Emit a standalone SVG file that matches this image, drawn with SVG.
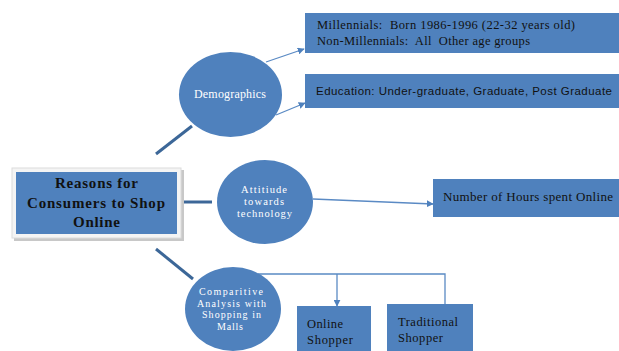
<svg xmlns="http://www.w3.org/2000/svg" width="619" height="351" viewBox="0 0 619 351">
<defs>
<marker id="ah" viewBox="0 0 10 10" refX="9" refY="5" markerWidth="7" markerHeight="7" markerUnits="userSpaceOnUse" orient="auto">
<path d="M0,0 L10,5 L0,10 z" fill="#4f81bd"/>
</marker>
<style>
.box{fill:#4f81bd;}
.ell{fill:#4f81bd;}
.thick{stroke:#3c6798;stroke-width:3;fill:none;}
.thin{stroke:#5a8ac4;stroke-width:1.3;fill:none;}
.serif{font-family:"Liberation Serif","Times New Roman",serif;}
.sans{font-family:"Liberation Sans",Arial,sans-serif;}
.wt{fill:#ffffff;text-anchor:middle;}
.bt{fill:#111111;}
</style>
</defs>
<rect width="619" height="351" fill="#ffffff"/>
<g id="connectors">
<line class="thick" x1="156" y1="154" x2="192" y2="126"/>
<line class="thick" x1="183" y1="202" x2="212" y2="202"/>
<line class="thick" x1="156" y1="249" x2="193" y2="279"/>
<line class="thin" x1="266" y1="62" x2="304" y2="49" marker-end="url(#ah)"/>
<line class="thin" x1="276" y1="115" x2="305" y2="103" marker-end="url(#ah)"/>
<line class="thin" x1="313" y1="199" x2="433" y2="204" marker-end="url(#ah)"/>
<polyline class="thin" points="258,274 445,274 445,310 422,310" marker-end="url(#ah)"/>
<line class="thin" x1="337" y1="274" x2="337" y2="306" marker-end="url(#ah)"/>
</g>
<g id="center">
<rect x="14" y="170" width="170" height="71" fill="#c8c8c8"/>
<rect x="12" y="168" width="169" height="70" fill="#f4f4f4" stroke="#dcdcdc" stroke-width="1"/>
<rect class="box" x="16" y="172" width="161" height="62"/>
<text class="serif bt" x="96.5" y="188" font-size="15" font-weight="bold" text-anchor="middle" textLength="83" lengthAdjust="spacing">Reasons for</text>
<text class="serif bt" x="96" y="208" font-size="15" font-weight="bold" text-anchor="middle" textLength="138" lengthAdjust="spacing">Consumers to Shop</text>
<text class="serif bt" x="96.5" y="227" font-size="15" font-weight="bold" text-anchor="middle" textLength="47" lengthAdjust="spacing">Online</text>
</g>
<g id="demographics">
<ellipse class="ell" cx="230.5" cy="94.5" rx="51.5" ry="42.5"/>
<text class="serif wt" font-size="12" x="230" y="98" textLength="72" lengthAdjust="spacing">Demographics</text>
</g>
<g id="millennials">
<rect class="box" x="305" y="13" width="314" height="40"/>
<text class="serif bt" x="317" y="29" font-size="12.5" xml:space="preserve" textLength="258" lengthAdjust="spacing">Millennials:  Born 1986-1996 (22-32 years old)</text>
<text class="serif bt" x="317" y="45" font-size="12.5" xml:space="preserve" textLength="213" lengthAdjust="spacing">Non-Millennials:  All  Other age groups</text>
</g>
<g id="education">
<rect class="box" x="305" y="74" width="314" height="34"/>
<text class="sans bt" x="316" y="95" font-size="11.5" textLength="296" lengthAdjust="spacing">Education: Under-graduate, Graduate, Post Graduate</text>
</g>
<g id="attitude">
<ellipse class="ell" cx="265" cy="202" rx="48" ry="42"/>
<text class="serif wt" font-size="10.5" x="264" y="193" textLength="46" lengthAdjust="spacing">Attitiude</text>
<text class="serif wt" font-size="10.5" x="264" y="205" textLength="40" lengthAdjust="spacing">towards</text>
<text class="serif wt" font-size="10.5" x="264.5" y="217" textLength="55" lengthAdjust="spacing">technology</text>
</g>
<g id="hours">
<rect class="box" x="433" y="179" width="186" height="38"/>
<text class="serif bt" x="443" y="201" font-size="13" textLength="170" lengthAdjust="spacing">Number of Hours spent Online</text>
</g>
<g id="comparitive">
<ellipse class="ell" cx="233" cy="309" rx="48" ry="42"/>
<text class="serif wt" font-size="10" x="231" y="295" textLength="64" lengthAdjust="spacing">Comparitive</text>
<text class="serif wt" font-size="10" x="231.5" y="306.5" textLength="69" lengthAdjust="spacing">Analysis with</text>
<text class="serif wt" font-size="10" x="231.5" y="318" textLength="59" lengthAdjust="spacing">Shopping in</text>
<text class="serif wt" font-size="10" x="230" y="329.5" textLength="26" lengthAdjust="spacing">Malls</text>
</g>
<g id="online">
<rect class="box" x="297" y="306" width="74" height="45"/>
<text class="serif bt" x="307" y="328" font-size="12.5" textLength="36" lengthAdjust="spacing">Online</text>
<text class="serif bt" x="307" y="344" font-size="12.5" textLength="46" lengthAdjust="spacing">Shopper</text>
</g>
<g id="traditional">
<rect class="box" x="387" y="304" width="86" height="47"/>
<text class="serif bt" x="398" y="326" font-size="12.5" textLength="60" lengthAdjust="spacing">Traditional</text>
<text class="serif bt" x="398" y="342" font-size="12.5" textLength="45" lengthAdjust="spacing">Shopper</text>
</g>
</svg>
